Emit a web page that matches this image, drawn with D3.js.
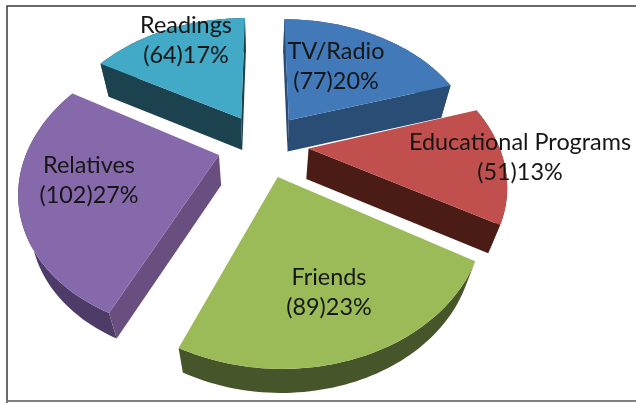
<!DOCTYPE html>
<html>
<head>
<meta charset="utf-8">
<script src="https://cdn.jsdelivr.net/npm/d3@7"></script>
<style>
  html, body { margin: 0; padding: 0; background: #fff; }
  svg { display: block; }
  text { font-family: Lato, "Noto Sans", sans-serif; font-size: 23.4px; fill: #161616; text-anchor: middle; }
</style>
</head>
<body>
<svg id="chart" width="636" height="403"></svg>
<script>
const categories = ['TV/Radio', 'Educational Programs', 'Friends', 'Relatives', 'Readings']
const counts = [77, 51, 89, 102, 64]
const percents = [20, 13, 23, 27, 17]

const topColors = ['#4279b8', '#c0504d', '#9bbb59', '#8669ab', '#42a9c6']
const edgeColors = ['#2c4d75', '#4c1c19', '#3f4d20', '#67507f', '#1d434f']
const rimColors = ['#2c4d75', '#4c1c19', '#46562a', '#4d3b68', '#1d434f']

const width = 636
const height = 403

// flat pie seen in perspective
const centerX = 263
const centerY = 145
const focal = 190
const persp = 0.22
const tilt = 0.70
const explode = 0.24
const shrink = 0.95

const project = (x, y) => {
  const s = focal / (1 + persp * y)
  return [centerX + x * s, centerY - y * tilt * s]
}
// wall gets a bit thinner lower on the page
const depth = d3.scaleLinear().domain([60, 370]).range([33, 24])
const drop = p => [centerX + (p[0] - centerX) * shrink, p[1] + depth(p[1])]

const svg = d3.select('#chart')
const line = d3.line()

svg.append('defs').append('filter').attr('id', 'soft')
  .append('feGaussianBlur').attr('stdDeviation', 0.5)

const g = svg.append('g').attr('filter', 'url(#soft)')

g.append('path').attr('d', line([[7, height], [7, 6], [width, 6]]))
  .attr('fill', 'none').attr('stroke', '#3a3a3a').attr('stroke-width', 1.5)
g.append('path').attr('d', line([[7, 401], [width, 401]]))
  .attr('fill', 'none').attr('stroke', '#808080').attr('stroke-width', 2)

const arcs = d3.pie().sort(null).value(d => d)(counts)

// far slices first
const drawOrder = [4, 0, 1, 3, 2]

drawOrder.forEach(i => {
  const a = arcs[i]
  const mid = (a.startAngle + a.endAngle) / 2
  const ox = explode * Math.sin(mid)
  const oy = explode * Math.cos(mid)

  const apex = project(ox, oy)
  const rim = d3.range(0, 61).map(k => {
    const t = a.startAngle + (a.endAngle - a.startAngle) * k / 60
    return project(ox + Math.sin(t), oy + Math.cos(t))
  })
  const rimLow = rim.map(drop)
  const first = rim[0]
  const last = rim[rim.length - 1]

  const startWall = [apex, first, drop(first), drop(apex)]
  const endWall = [apex, last, drop(last), drop(apex)]

  g.append('path').attr('d', line(rim.concat(rimLow.slice().reverse())) + 'Z')
    .attr('fill', rimColors[i])
  // d3.polygonArea is positive for the wall that faces away here
  if (d3.polygonArea(startWall) > 0) {
    g.append('path').attr('d', line(startWall) + 'Z').attr('fill', edgeColors[i])
  }
  if (d3.polygonArea(endWall) < 0) {
    g.append('path').attr('d', line(endWall) + 'Z').attr('fill', edgeColors[i])
  }
  g.append('path').attr('d', line([apex].concat(rim)) + 'Z').attr('fill', topColors[i])
})

const labelAt = [[336, 59], [520, 150], [329, 285], [89, 173], [186, 33]]
const lineGap = 30

categories.forEach((name, i) => {
  const t = g.append('text')
  t.append('tspan').attr('x', labelAt[i][0]).attr('y', labelAt[i][1]).text(name)
  t.append('tspan').attr('x', labelAt[i][0]).attr('y', labelAt[i][1] + lineGap)
    .text(`(${counts[i]})${percents[i]}%`)
})
</script>
</body>
</html>
